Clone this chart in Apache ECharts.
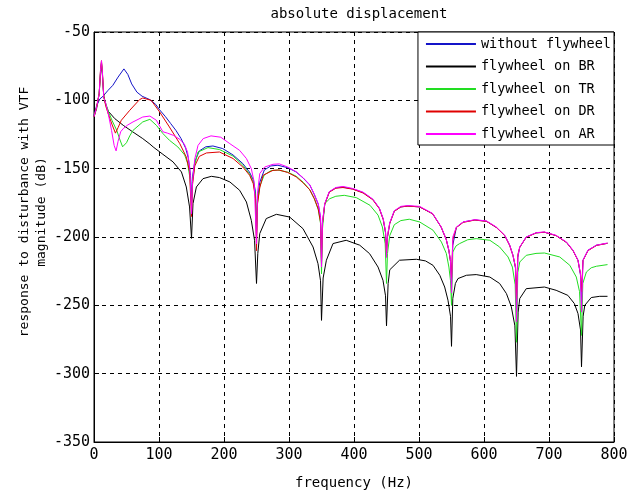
<!DOCTYPE html>
<html>
<head>
<meta charset="utf-8">
<script src="https://cdn.jsdelivr.net/npm/echarts@6/dist/echarts.min.js"></script>
<style>
html, body { margin: 0; padding: 0; background: #fff; }
#chart { width: 629px; height: 490px; }
</style>
</head>
<body>
<div id="chart"></div>
<script>
	/*----- data: [frequency Hz, magnitude dB] -----*/
	var seriesNames = ['without flywheel', 'flywheel on BR', 'flywheel on TR', 'flywheel on DR', 'flywheel on AR'];
	var seriesColors = ['#1414c8', '#000000', '#22dd22', '#e00000', '#ff00ff'];

	var withoutFlywheel = [
		[0,-111],[4,-104],[9,-99],[14,-97],[21,-93],[29,-89],[37,-83],[46,-77],[52,-81],[58,-88],[66,-94],[74,-97],[86,-99.5],[95,-103],[101,-107],[110,-112],[118,-117],[126,-122],[134,-128],[141,-135],[145,-142],[148.5,-155],
		[150,-175],[151.5,-156],[155,-145],[162,-137],[172,-134],[183,-133.4],[198,-135.3],[214,-140],[229,-146.3],[239,-152.4],[245,-158],[248.5,-167],
		[250,-198],[251.5,-172],[255,-160],[262,-151],[272,-148],[283,-147.5],[298,-149.3],[311,-152.4],[322,-157],[332,-162],[339,-169],[345,-176],[348.5,-186],
		[350,-218],[351.5,-190],[355,-176],[362,-167],[372,-164],[383,-163.5],[398,-164.8],[414,-167.5],[429,-172.5],[439,-179],[445,-187],[448.5,-197],
		[450,-210],[451.5,-200],[455,-190],[462,-181],[472,-178],[483,-177.3],[501,-178],[521,-183],[534,-192.7],[542,-202],[546,-210],[548.5,-218],
		[550,-235],[552,-206],[557.5,-193],[568,-189],[586,-187.5],[604,-188.5],[619,-193],[632,-199],[639.5,-206],[644.6,-213.4],[648.5,-223],
		[650,-255],[652,-215],[655,-207.5],[665,-200],[680,-197],[693,-196.5],[711,-199],[727,-204],[737,-210],[744.6,-217],[748.5,-228],
		[750,-250],[752.3,-217],[760,-209.7],[773,-206],[790,-204.6]
	];

	var flywheelBR = [
		[0,-112],[4,-106],[8,-95],[10,-80],[11.5,-73],[13,-82],[15,-97],[18,-103],[22,-108],[32,-113.4],[45,-118.3],[60,-123.2],[75,-128],[86,-132],[91,-134.1],[106,-139.5],[121.5,-145],[134.5,-152.4],[142,-163.4],[147,-178],
		[150,-201],[152.3,-175.6],[157.5,-163.4],[167.7,-157.3],[180.6,-155.6],[193,-156.5],[209,-159.7],[224,-165.8],[234.5,-174.4],[242,-187.8],[247,-202.4],
		[250,-234],[252,-212],[255,-197.5],[265,-186.5],[280.6,-183.4],[301,-185.4],[321.5,-193.9],[337,-207.3],[344.6,-219.5],[348.5,-232],
		[350,-261],[352.5,-230],[357.5,-217],[367.7,-204.8],[388,-202.4],[408.8,-206],[424,-212.2],[437,-222],[444.6,-231.7],[448.5,-243],
		[450,-265],[452.5,-234],[455,-224],[470,-217],[496,-216.3],[510,-217.5],[521.5,-220.7],[532,-228],[539.5,-236.6],[544.6,-246.3],[548.5,-258],
		[550,-280],[552,-245],[556,-234],[560,-230.4],[573,-228],[588,-227.5],[609,-229.3],[624,-234],[634.5,-241.4],[642,-251],[647.5,-265],
		[650,-302],[652.5,-255],[655,-245],[665,-237.8],[693,-236.6],[711,-239],[729,-242.7],[739,-248.7],[744.6,-256],[748.5,-268],
		[750,-295],[752.5,-258],[755,-250],[765,-244.3],[778,-243.4],[790,-243.4]
	];

	var flywheelTR = [
		[0,-112],[4,-105],[8,-95],[10,-79],[11.5,-72],[13,-81],[15,-97],[18,-102],[22,-108],[28,-115],[35,-122],[40,-129],[44,-134],[46,-135.3],[50,-131],[55,-126],[60,-122],[75,-115.8],[86,-113.9],[96,-118.3],[106,-124.3],[116,-129.2],[129,-134.1],[139.5,-140],[144,-146],[148,-158],
		[150,-180],[151.5,-160],[155,-147],[160,-137.8],[175.4,-134.6],[193,-136],[214,-140.8],[229,-147.5],[239,-153.8],[245,-159.5],[248.5,-170],
		[250,-200],[251.5,-175],[255,-163],[262,-154.5],[272,-151.5],[283,-151],[298,-152.5],[311,-155.5],[322,-160],[332,-165.5],[339,-172],[345,-180],[348.5,-190],
		[350,-227],[351.5,-194],[355,-175.6],[362.6,-172],[372,-170.2],[385,-169.5],[403.6,-171.2],[424.6,-176.8],[437,-184],[443.7,-192.7],[448,-205],
		[450,-234],[451.5,-212],[455,-199],[462,-191],[472,-188],[485,-187],[501,-189],[521.5,-195],[534.5,-203.7],[542,-212],[546,-222],[548.5,-232],
		[550,-250],[552,-211],[557,-206.5],[562.6,-204.8],[575,-202],[588,-201.2],[609,-202.4],[624,-207.3],[637,-214.6],[643.7,-222],[648,-235],
		[650,-277],[652,-226],[655,-218.3],[665,-213.4],[680,-212],[693,-211.7],[716.5,-214.6],[732,-220.7],[742,-229.3],[747,-240],
		[750,-272],[752,-234],[757.5,-225.6],[765,-222.5],[773,-221.4],[790,-220.2]
	];

	var flywheelDR = [
		[0,-112],[4,-105],[8,-95],[10,-78],[11.5,-71],[13,-80],[15,-97],[18,-104],[22,-110],[28,-118],[33,-124],[37,-120],[42,-114.6],[55,-107.3],[70,-99.5],[75,-98.3],[88,-100],[101,-108.5],[116,-119.5],[132,-131.7],[142,-141.5],[147,-152],
		[150,-185],[151.5,-162],[155,-148],[162,-141],[173,-138.5],[193,-137.8],[214,-142.6],[229,-148.8],[239.5,-154.9],[245,-161],[248.5,-172],
		[250,-210],[251.5,-176],[255,-164],[260,-154.9],[275.4,-151.2],[285,-151],[298,-152.8],[311,-156],[322,-160.5],[332,-165.5],[339,-172],[345,-179.5],[348.5,-189],
		[350,-220],[351.5,-190],[355,-176],[362,-167.2],[372,-164.3],[383,-163.8],[398,-165],[414,-167.8],[429,-172.8],[439,-179.3],[445,-187.3],[448.5,-196.5],
		[450,-212],[451.5,-200],[455,-190],[462,-181.2],[472,-178],[483,-177.4],[501,-178],[521,-183],[534,-192.7],[542,-202],[546,-210],[548.5,-218],
		[550,-230],[552,-202],[557.5,-193],[568,-189.3],[586,-187.6],[604,-188.6],[619,-193],[632,-199],[639.5,-206.2],[644.6,-213.6],[648.5,-222],
		[650,-245],[652,-213],[655,-207.5],[665,-200.2],[680.6,-197],[693,-196.5],[711,-199],[727,-204],[737,-210],[744.6,-217.2],[748.5,-227],
		[750,-240],[752.3,-217.2],[760,-210],[773,-206.2],[790,-204.6]
	];

	var flywheelAR = [
		[0,-112],[4,-105],[8,-95],[10,-78],[11.5,-71],[13,-80],[15,-98],[18,-102],[22,-110],[27,-122],[31,-133],[34,-137],[37,-130],[41,-123],[45,-120.7],[52,-118],[60,-115.8],[75,-112.2],[86,-111.5],[96,-114.6],[106,-123],[113,-124],[122,-125.6],[132,-128.5],[139,-132],[144,-138],[147.5,-150],
		[150,-183],[151.5,-160],[155,-143],[160,-133],[168,-128],[180,-126],[195,-127],[209,-131.7],[224,-136.6],[234.5,-142.6],[242,-150],[246.5,-160],
		[250,-205],[251.5,-168],[255,-153.6],[262.6,-148.8],[275.4,-146.8],[285,-146.5],[298,-148.8],[311,-152.2],[322,-156.8],[332,-161.8],[339,-168.8],[345,-175.8],[348.5,-185],
		[350,-222],[351.5,-189],[355,-175.5],[362,-166.8],[372,-163.8],[383,-163],[398,-164.5],[414,-167.2],[429,-172.3],[439,-178.8],[445,-186.8],[448.5,-196],
		[450,-215],[451.5,-199],[455,-189.5],[462,-180.8],[472,-177.6],[483,-177],[501,-177.6],[521,-182.8],[534,-192.5],[542,-201.8],[546,-209.6],[548.5,-217],
		[550,-241],[552,-200],[557.5,-192.7],[568,-189],[586,-187.3],[604,-188.3],[619,-192.7],[632,-198.8],[639.5,-206],[644.6,-213.4],[648.5,-222],
		[650,-262],[652,-214],[655,-207.3],[665,-200],[680.6,-196.8],[693,-196.3],[711,-198.8],[727,-203.7],[737,-209.7],[744.6,-217],[748.5,-227],
		[750,-255],[752.3,-217],[760,-209.7],[773,-206],[790,-204.4]
	];

	var seriesData = [withoutFlywheel, flywheelBR, flywheelTR, flywheelDR, flywheelAR];

	var yTitleLines = ['response to disturbance with VTF', 'magnitude (dB)'];

	var font = 'DejaVu Sans Mono';

	var series = seriesNames.map(function (name, i) {
		return {
			name: name,
			type: 'line',
			symbol: 'none',
			data: seriesData[i],
			lineStyle: { width: 1, color: seriesColors[i] },
			itemStyle: { color: seriesColors[i] }
		};
	});

	var option = {
		animation: false,
		backgroundColor: '#fff',
		title: {
			text: 'absolute displacement',
			left: 354,
			textAlign: 'center',
			top: 2,
			textStyle: { fontFamily: font, fontSize: 14, fontWeight: 'normal', color: '#000' }
		},
		legend: {
			data: seriesNames,
			orient: 'vertical',
			align: 'left',
			right: 15,
			top: 32,
			icon: 'rect',
			backgroundColor: '#fff',
			borderColor: '#000',
			borderWidth: 1,
			borderRadius: 0,
			padding: [5, 3, 4, 8],
			itemWidth: 50,
			itemHeight: 2,
			itemGap: 8.5,
			textStyle: { fontFamily: font, fontSize: 13.5, lineHeight: 14, color: '#000' }
		},
		grid: {
			left: 94,
			right: 15,
			top: 32,
			bottom: 48,
			outerBoundsMode: 'none',
			containLabel: false,
			show: true,
			borderColor: '#000',
			borderWidth: 1
		},
		graphic: [
			{
				type: 'text',
				x: 25,
				y: 212,
				rotation: Math.PI / 2,
				style: { text: yTitleLines[0], fontFamily: font, fontSize: 13, fill: '#000', align: 'center', verticalAlign: 'middle' }
			},
			{
				type: 'text',
				x: 41.5,
				y: 212,
				rotation: Math.PI / 2,
				style: { text: yTitleLines[1], fontFamily: font, fontSize: 13, fill: '#000', align: 'center', verticalAlign: 'middle' }
			}
		],
		xAxis: {
			type: 'value',
			min: 0,
			max: 800,
			interval: 100,
			name: 'frequency (Hz)',
			nameLocation: 'middle',
			nameGap: 34,
			nameTextStyle: { fontFamily: font, fontSize: 14, color: '#000' },
			axisLine: { show: true, lineStyle: { color: '#000' } },
			axisTick: { show: true, inside: true, length: 5, lineStyle: { color: '#000' } },
			axisLabel: { fontFamily: font, fontSize: 15, color: '#000', margin: 6 },
			splitLine: { show: true, lineStyle: { color: '#000', type: [4, 4], width: 1 } }
		},
		yAxis: {
			type: 'value',
			min: -350,
			max: -50,
			interval: 50,
			axisLine: { show: true, lineStyle: { color: '#000' } },
			axisTick: { show: true, inside: true, length: 5, lineStyle: { color: '#000' } },
			axisLabel: { fontFamily: font, fontSize: 15, color: '#000', margin: 4 },
			splitLine: { show: true, lineStyle: { color: '#000', type: [4, 4], width: 1 } }
		},
		series: series
	};

	var chart = echarts.init(document.getElementById('chart'));
	chart.setOption(option);
</script>
</body>
</html>
